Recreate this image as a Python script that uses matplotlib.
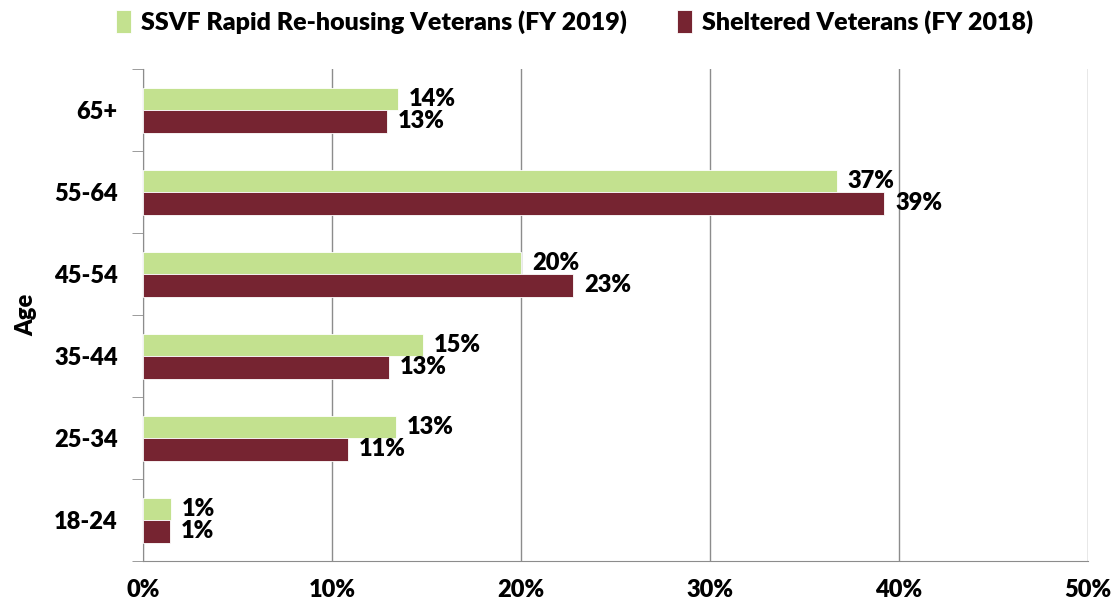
import numpy as np
import matplotlib.pyplot as plt
from matplotlib.ticker import FixedLocator, PercentFormatter

plt.rcParams['font.family'] = ['Lato', 'DejaVu Sans']
plt.rcParams['font.weight'] = 'heavy'

ages = ['18-24', '25-34', '35-44', '45-54', '55-64', '65+']
ssvf_2019 = [1.48, 13.4, 14.8, 20.0, 36.7, 13.5]
sheltered_2018 = [1.43, 10.85, 13.0, 22.75, 39.2, 12.9]

green = '#C3E18F'
maroon = '#762431'
fs = 17

fig = plt.figure(figsize=(11.16, 6.12), dpi=100)
ax = fig.add_axes([0.128, 0.083, 0.847, 0.804])

y = np.arange(len(ages))
h = 0.275
b1 = ax.barh(y + h / 2, ssvf_2019, height=h, color=green, edgecolor='white', linewidth=0.6,
             label='SSVF Rapid Re-housing Veterans (FY 2019)', zorder=3)
b2 = ax.barh(y - h / 2, sheltered_2018, height=h, color=maroon, edgecolor='white', linewidth=0.6,
             label='Sheltered Veterans (FY 2018)', zorder=3)

for bars, vals in ((b1, ssvf_2019), (b2, sheltered_2018)):
    for bar, v in zip(bars, vals):
        ax.annotate(f'{v:.0f}%', (v, bar.get_y() + bar.get_height() / 2),
                    xytext=(8, 0), textcoords='offset points', va='center', ha='left',
                    fontsize=fs, fontweight='heavy', zorder=4)

ax.set_xlim(0, 50)
ax.set_ylim(-0.5, len(ages) - 0.5)
ax.set_xticks(np.arange(0, 51, 10))
ax.xaxis.set_major_formatter(PercentFormatter(decimals=0))
ax.grid(axis='x', color='#8c8c8c', linewidth=1.0, zorder=0)

ax.set_yticks(y)
ax.set_yticklabels(ages)
ax.yaxis.set_minor_locator(FixedLocator(np.arange(-0.5, len(ages), 1)))
ax.tick_params(axis='y', which='major', length=0, pad=18, labelsize=fs)
ax.tick_params(axis='y', which='minor', length=8, color='#8c8c8c')
ax.tick_params(axis='x', length=0, pad=13, labelsize=fs)
for lab in ax.get_xticklabels() + ax.get_yticklabels():
    lab.set_fontweight('heavy')

for s in ('top', 'right'):
    ax.spines[s].set_visible(False)
for s in ('left', 'bottom'):
    ax.spines[s].set_color('#8c8c8c')

ax.set_ylabel('Age', fontsize=fs, fontweight='heavy', labelpad=12)

fig.legend(handles=[b1, b2], loc='upper center', bbox_to_anchor=(0.515, 1.02), ncol=2,
           frameon=False, fontsize=fs + 1, handlelength=0.6, handleheight=1.0,
           handletextpad=0.4, columnspacing=2.0)

fig.savefig('out.png', dpi=100)
